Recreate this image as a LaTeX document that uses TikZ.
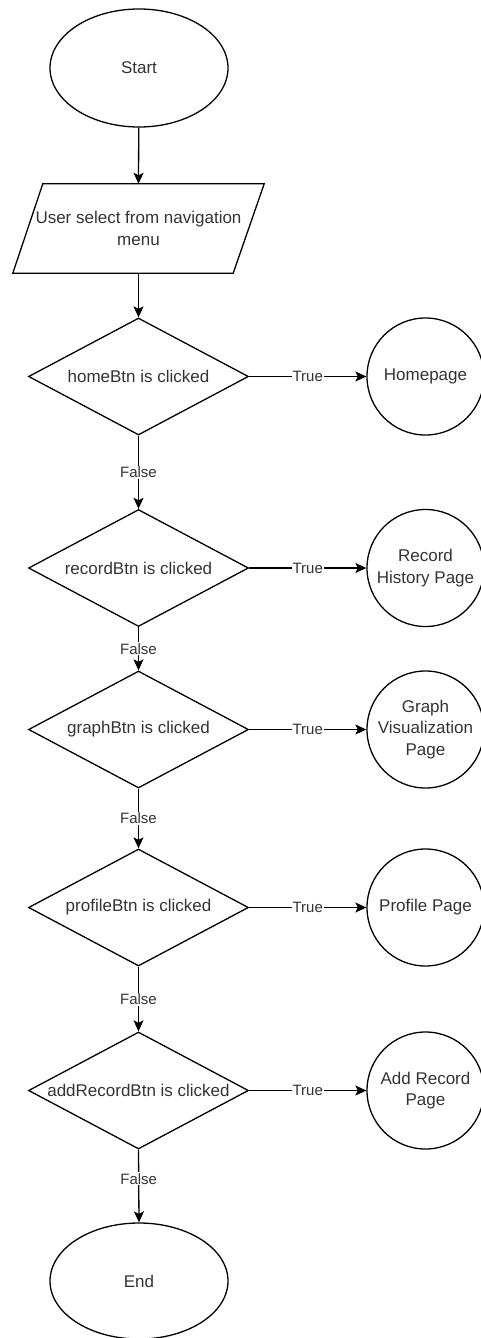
\documentclass[tikz,border=0pt]{standalone}
\usepackage{fontspec}
\setmainfont{Liberation Sans}
\usetikzlibrary{arrows.meta,shapes.geometric,calc}

\tikzset{
  base/.style={draw=black, line width=1.3pt, text=black!80,
    font=\fontsize{17}{21.5}\selectfont, align=center, inner sep=0pt},
  terminal/.style={base, ellipse, minimum width=178pt, minimum height=118pt},
  io/.style={inner sep=0pt, minimum width=251pt, minimum height=89pt,
    text=black!80, font=\fontsize{17}{21.5}\selectfont, align=center},
  decision/.style={base, diamond, minimum width=220pt, minimum height=117pt},
  page/.style={base, circle, minimum size=117pt},
  flow/.style={draw=black, line width=1.3pt,
    -{Stealth[length=11pt,width=10pt,inset=2.5pt]}},
  edgelabel/.style={fill=white, inner sep=1pt, text=black!80,
    font=\fontsize{15}{18}\selectfont}
}

\begin{document}
\begin{tikzpicture}[x=1pt, y=-1pt]
  \useasboundingbox (0,0) rectangle (480,1338);

  % main column
  \node[terminal] (start) at (139,68) {Start};
  \node[io] (menu) at (138.5,228.5) {User select from navigation\\menu};
  \draw[line width=1.3pt]
    ($(menu.north west)+(30,0)$) -- (menu.north east)
    -- ($(menu.south east)+(-31,0)$) -- (menu.south west) -- cycle;

  \node[decision] (home)    at (138.5,376.5) {\makebox[0pt]{homeBtn is clicked}};
  \node[decision] (record)  at (138.5,568)   {\makebox[0pt]{recordBtn is clicked}};
  \node[decision] (graph)   at (138.5,729.5) {\makebox[0pt]{graphBtn is clicked}};
  \node[decision] (profile) at (138.5,907.5) {\makebox[0pt]{profileBtn is clicked}};
  \node[decision] (addrec)  at (138.5,1090.5){\makebox[0pt]{addRecordBtn is clicked}};
  \node[terminal, minimum height=116pt] (end) at (139,1281) {End};

  % target pages
  \node[page] (homepage)  at (425.5,376.5) {Homepage};
  \node[page] (histpage)  at (425.5,568)   {Record\\History Page};
  \node[page] (graphpage) at (425.5,729.5) {Graph\\Visualization\\Page};
  \node[page] (profpage)  at (425.5,907.5) {Profile Page};
  \node[page] (addpage)   at (425.5,1090.5){Add Record\\Page};

  % vertical flow
  \draw[flow] (start) -- (menu.north);
  \draw[flow] (menu.south) -- (home.north);
  \draw[flow] (home.south) -- node[edgelabel] {False} (record.north);
  \draw[flow] (record.south) -- node[edgelabel] {False} (graph.north);
  \draw[flow] (graph.south) -- node[edgelabel] {False} (profile.north);
  \draw[flow] (profile.south) -- node[edgelabel] {False} (addrec.north);
  \draw[flow] (addrec.south) -- node[edgelabel, pos=0.4] {False} (end.north);

  % true branches
  \draw[flow] (home.east) -- node[edgelabel] {True} (homepage.west);
  \draw[flow] (record.east) -- node[edgelabel] {True} (histpage.west);
  \draw[flow] (graph.east) -- node[edgelabel] {True} (graphpage.west);
  \draw[flow] (profile.east) -- node[edgelabel] {True} (profpage.west);
  \draw[flow] (addrec.east) -- node[edgelabel] {True} (addpage.west);
\end{tikzpicture}
\end{document}
